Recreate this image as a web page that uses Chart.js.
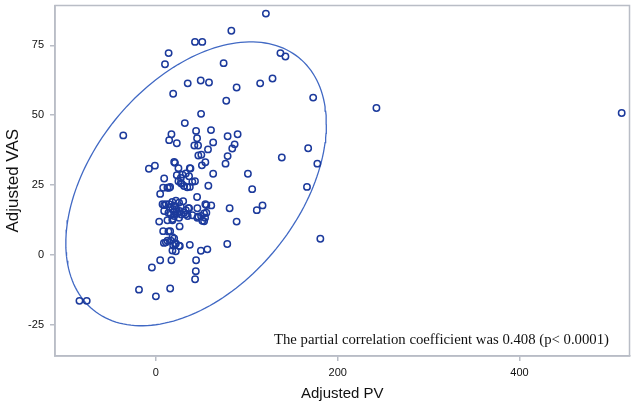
<!DOCTYPE html>
<html>
<head>
<meta charset="utf-8">
<script src="https://cdn.jsdelivr.net/npm/chart.js@4"></script>
<style>
html,body{margin:0;padding:0;background:#fff;}
#wrap{width:635px;height:405px;position:relative;}
</style>
</head>
<body>
<div id="wrap"><canvas id="c" width="635" height="405"></canvas></div>
<script>
// ---- data ----
const pvValues = [
121,83,43,51,14,10,137,142.5,74.5,35,49.3,58.4,114.7,128.3,88.8,19,77.4,173,242.6,512.4,49.7,31.8,-35.9,
17.1,14.6,23,44.2,45.3,60.6,63,78.9,89.9,86.6,84,57.3,42.3,46.4,167.5,138.5,
46.7,50,54.4,50.6,78.9,76.6,177.6,-7.7,-1.1,20.1,21,24.8,37.3,38,
63,101.2,9.1,29.2,32.9,23,27.4,36.5,24.8,40.1,43,27.4,
105.9,166.2,57.7,37.3,31,28.5,8,12.7,14.6,15.7,34.5,4.7,45.3,
7.3,11,14.6,9.1,15.4,20.1,25.5,27.4,35.7,32.9,22.6,18.2,36.5,54.4,55.5,60.9,45.6,81.1,111,117.3,18,22,30,26,20,
16.4,20.1,23.7,25.5,18.2,13.8,9.1,31,32.9,46.4,49.7,53,55.5,54.1,45.6,51.1,53,88.8,3.6,12.7,18.2,40.1,28,35,
26.1,8,15.7,13.8,18.2,20.1,
180.9,11,16.4,21.2,25.5,8.8,12.7,37.3,26.3,78.5,19,22,18.2,21.9,49.5,56.6,
-4.4,4.7,17.1,44.2,43.9,43.1,-18.6,0,15.7,-84.1,-76.1
];
const vasValues = [
86.3,80.2,76.2,76.2,72.2,68.2,72.2,71,68.6,61.4,62.4,61.7,61.4,63.1,59.9,57.7,55.2,56.3,52.6,50.8,50.5,47.2,42.8,
43.2,41.1,40,44.4,41.8,44.7,40.3,42.5,43.2,39.6,38.1,37.8,39.2,39.2,38.2,34.9,
35.6,35.9,33.2,32.1,35.4,32.7,32.7,30.9,32,33.3,33,31.1,31.1,31,
29.1,29.1,27.4,28.8,29.2,28.6,27.6,28.2,26.4,26.2,26.4,25.8,
23.6,24.4,24.8,24.4,24.7,25.5,24.1,24.1,24.1,24.4,24.3,21.9,20.8,
18.2,18.2,18.2,17.9,17.2,17.6,18.8,17.2,16.8,16.1,16.4,16.4,16.8,18.2,17.9,17.8,16.8,16.8,16.1,17.8,19,19.5,19.3,15.8,15.5,
14.6,14,14.9,13.4,12.9,15.2,15.8,15.2,14.6,13.8,14,14.9,15.2,13.4,13.4,12.3,12.1,12,12,12.5,12.5,14.3,14.5,14,
10.3,8.6,8.6,8.5,6.4,6,
5.9,4.6,5.2,4,3.4,4.4,5.2,3.7,3.3,4,3.5,4.2,1.7,1.4,1.6,2.1,
-4.4,-1.8,-1.8,-1.8,-5.7,-8.6,-12.3,-14.7,-11.9,-16.3,-16.3
];
// prediction ellipse parameters (center, standard half-axes, correlation)
const ellipseCenter = [44.2, 25.5];
const ellipseSpread = [143.3, 50.7];
const ellipseCorr = [0.42];
const xTicks = [0, 200, 400];
const yTicks = [-25, 0, 25, 50, 75];
const xRange = [-111, 521];
const yRange = [-36, 89.2];
const annotationText = ["The partial correlation coefficient was 0.408 (p< 0.0001)"];
const axisTitles = ["Adjusted PV", "Adjusted VAS"];

// ---- build ----
const points = pvValues.map((x, i) => ({x: x, y: vasValues[i]}));
const ellipse = [];
const r = ellipseCorr[0], s = Math.sqrt(1 - r * r);
for (let k = 0; k <= 180; k++) {
  const t = k / 180 * 2 * Math.PI;
  ellipse.push({
    x: ellipseCenter[0] + ellipseSpread[0] * Math.cos(t),
    y: ellipseCenter[1] + ellipseSpread[1] * (r * Math.cos(t) + s * Math.sin(t))
  });
}

const boxPlugin = {
  id: 'box',
  afterDraw(chart) {
    const a = chart.chartArea, ctx = chart.ctx;
    ctx.save();
    ctx.strokeStyle = '#b9bdc6';
    ctx.lineWidth = 1.5;
    ctx.strokeRect(a.left, a.top, a.right - a.left, a.bottom - a.top);
    // annotation
    ctx.fillStyle = '#111';
    ctx.textBaseline = 'alphabetic';
    ctx.font = '14px "Liberation Serif"';
    const w = ctx.measureText(annotationText[0]).width;
    const size = 14 * 335 / w;
    ctx.font = size.toFixed(2) + 'px "Liberation Serif"';
    ctx.fillText(annotationText[0], a.left + 219, a.top + 338);
    ctx.restore();
  }
};

const tickFont = {family: '"Liberation Sans", Arial, sans-serif', size: 11};
new Chart(document.getElementById('c'), {
  type: 'scatter',
  data: {
    datasets: [
      {
        data: points,
        pointStyle: 'circle',
        pointRadius: 3.2,
        pointBorderWidth: 1.5,
        pointBorderColor: '#1c3a9c',
        pointBackgroundColor: 'rgba(0,0,0,0)',
        showLine: false
      },
      {
        data: ellipse,
        showLine: true,
        pointRadius: 0,
        borderColor: '#4169c4',
        borderWidth: 1.3,
        fill: false,
        tension: 0
      }
    ]
  },
  options: {
    responsive: false,
    animation: false,
    events: [],
    layout: {padding: {top: 3, right: 3, left: 0, bottom: 0}},
    plugins: {legend: {display: false}, tooltip: {enabled: false}},
    scales: {
      x: {
        type: 'linear',
        min: xRange[0], max: xRange[1],
        afterBuildTicks: sc => { sc.ticks = xTicks.map(v => ({value: v})); },
        afterFit: sc => { sc.height = 49; sc.paddingLeft = 0; sc.paddingRight = 0; },
        grid: {drawOnChartArea: false, tickLength: 5, color: '#b9bdc6', lineWidth: 1.5},
        border: {display: true, color: '#b9bdc6', width: 1.5},
        ticks: {font: tickFont, color: '#111', padding: 5, maxRotation: 0},
        title: {display: true, text: axisTitles[0], color: '#111',
                font: {family: '"Liberation Sans", Arial, sans-serif', size: 15},
                padding: {top: 0, bottom: 2}}
      },
      y: {
        type: 'linear',
        min: yRange[0], max: yRange[1],
        afterBuildTicks: sc => { sc.ticks = yTicks.map(v => ({value: v})); },
        afterFit: sc => { sc.width = 55; sc.paddingTop = 0; sc.paddingBottom = 0; },
        grid: {drawOnChartArea: false, tickLength: 5, color: '#b9bdc6', lineWidth: 1.5},
        border: {display: true, color: '#b9bdc6', width: 1.5},
        ticks: {font: tickFont, color: '#111', padding: 6},
        title: {display: true, text: axisTitles[1], color: '#111',
                font: {family: '"Liberation Sans", Arial, sans-serif', size: 17},
                padding: {top: 3, bottom: 0}}
      }
    }
  },
  plugins: [boxPlugin]
});
</script>
</body>
</html>
